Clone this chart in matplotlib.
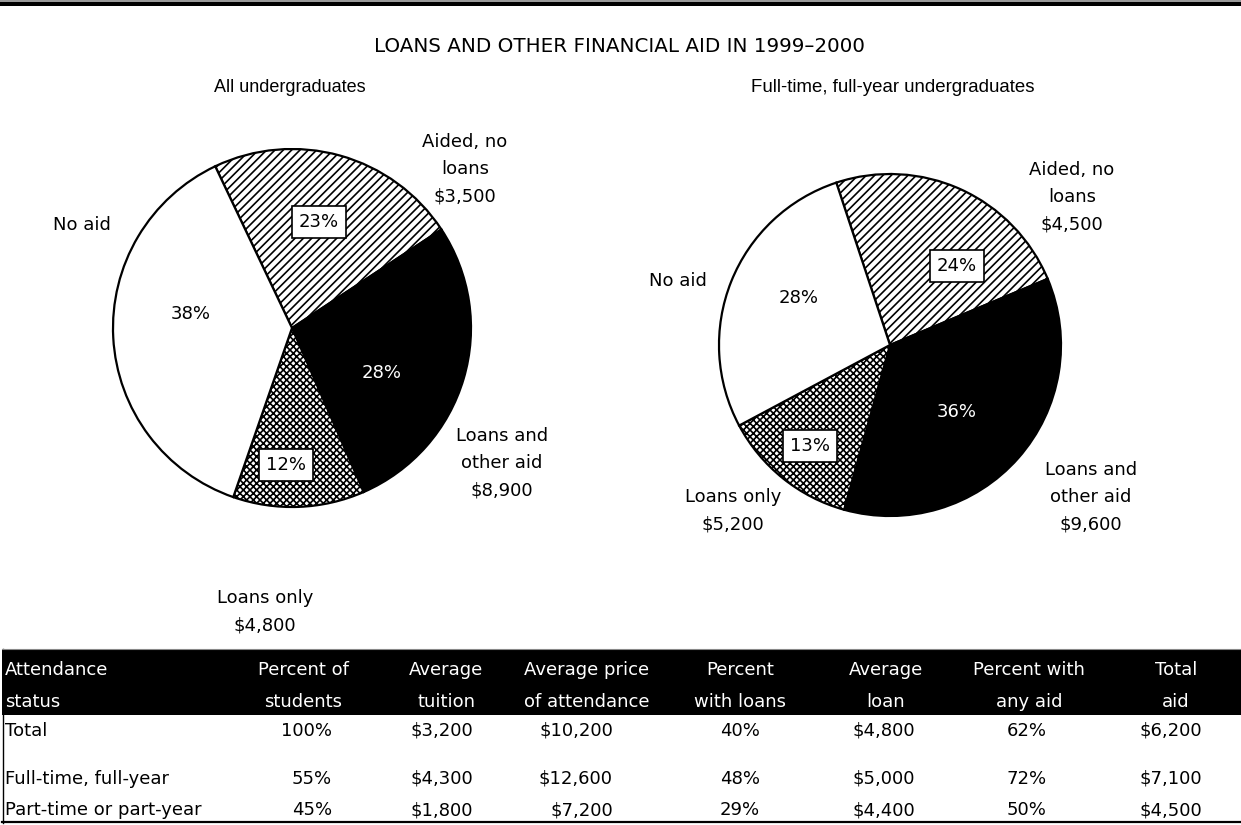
import matplotlib
matplotlib.use("Agg")
import matplotlib.pyplot as plt
from matplotlib.patches import Rectangle

W, H = 1241, 825

# pie data (percent of students) and average aid amounts
categories = ["Aided, no\nloans", "Loans and\nother aid", "Loans only", "No aid"]
all_pct = [23, 28, 12, 38]
all_amt = ["$3,500", "$8,900", "$4,800", ""]
ft_pct = [24, 36, 13, 28]
ft_amt = ["$4,500", "$9,600", "$5,200", ""]

# table data
col_heads = ["Attendance\nstatus", "Percent of\nstudents", "Average\ntuition",
             "Average price\nof attendance", "Percent\nwith loans", "Average\nloan",
             "Percent with\nany aid", "Total\naid"]
row_names = ["Total", "Full-time, full-year", "Part-time or part-year"]
pct_students = ["100%", "55%", "45%"]
avg_tuition = ["$3,200", "$4,300", "$1,800"]
avg_price = ["$10,200", "$12,600", "$7,200"]
pct_loans = ["40%", "48%", "29%"]
avg_loan = ["$4,800", "$5,000", "$4,400"]
pct_any = ["62%", "72%", "50%"]
total_aid = ["$6,200", "$7,100", "$4,500"]

FONT = "DejaVu Sans"
SUB = "Liberation Sans"
FS = 13

fills = ["white", "black", "white", "white"]
hatches = ["////", None, "xxxxx", None]
plt.rcParams["hatch.linewidth"] = 1.2

fig = plt.figure(figsize=(W / 100, H / 100), dpi=100)


def draw_pie(cx, cy, r, vals, start):
    ax = fig.add_axes([(cx - r) / W, 1 - (cy + r) / H, 2 * r / W, 2 * r / H])
    wedges, _ = ax.pie(vals, startangle=start, counterclock=False, colors=fills,
                       radius=1, wedgeprops=dict(edgecolor="black", linewidth=1.6))
    for w, h in zip(wedges, hatches):
        w.set_clip_on(False)
        if h:
            w.set_hatch(h)
    ax.set_xlim(-1, 1)
    ax.set_ylim(-1, 1)
    ax.axis("off")
    return ax


ax1 = draw_pie(292, 328, 179, all_pct, 115.4)
ax2 = draw_pie(890, 345, 171, ft_pct, 108.3)

# overlay in pixel coordinates for all text and table
ov = fig.add_axes([0, 0, 1, 1])
ov.set_xlim(0, W)
ov.set_ylim(H, 0)
ov.axis("off")
ov.patch.set_alpha(0)

ov.add_patch(Rectangle((0, 0), W, 1.5, color="#999999", lw=0))
ov.add_patch(Rectangle((0, 1.5), W, 4, color="black", lw=0))

ov.text(620, 47, "LOANS AND OTHER FINANCIAL AID IN 1999\u20132000", ha="center", va="center",
        fontsize=14.3, family=FONT)
ov.text(290, 87, "All undergraduates", ha="center", va="center", fontsize=FS, family=SUB)
ov.text(893, 87, "Full-time, full-year undergraduates", ha="center", va="center",
        fontsize=13.4, family=SUB)


def pie_labels(pcts, amts, pct_pos, lab_pos):
    for i, (p, a) in enumerate(zip(pcts, amts)):
        txt = categories[i] + ("\n" + a if a else "")
        ov.text(lab_pos[i][0], lab_pos[i][1], txt, ha="center", va="center",
                fontsize=FS, family=FONT, linespacing=1.65)
        color = "white" if fills[i] == "black" else "black"
        box = None
        if hatches[i]:
            box = dict(boxstyle="square,pad=0.4", fc="white", ec="black", lw=1.2)
        ov.text(pct_pos[i][0], pct_pos[i][1], f"{p}%", ha="center", va="center",
                fontsize=FS, family=FONT, color=color, bbox=box)


pie_labels(all_pct, all_amt,
           [(319, 222), (382, 373), (286, 465), (191, 314)],
           [(465, 169), (502, 463), (265, 612), (82, 225)])
pie_labels(ft_pct, ft_amt,
           [(957, 266), (957, 412), (810, 446), (799, 298)],
           [(1072, 197), (1091, 497), (733, 511), (678, 281)])

# table
ov.add_patch(Rectangle((2, 649), W - 2, 66, color="black", lw=0))
ov.plot([2.5, 2.5], [649, 823], color="black", lw=1)
ov.plot([2, W], [822, 822], color="black", lw=1.6)
ov.plot([2, W], [649, 649], color="#888888", lw=0.8)

head_x = [5, 303, 446, 587, 740, 886, 1029, 1176]
head_ha = ["left"] + ["center"] * 7
data_x = [5, 332, 473, 613, 740, 915, 1027, 1202]
data_ha = ["left", "right", "right", "right", "center", "right", "center", "right"]
row_y = [731, 779, 810]

for x, ha, t in zip(head_x, head_ha, col_heads):
    ov.text(x, 686, t, ha=ha, va="center", fontsize=FS, family=FONT, color="white",
            linespacing=1.95)

cols = [row_names, pct_students, avg_tuition, avg_price, pct_loans, avg_loan, pct_any, total_aid]
for x, ha, col in zip(data_x, data_ha, cols):
    for y, v in zip(row_y, col):
        ov.text(x, y, v, ha=ha, va="center", fontsize=FS, family=FONT)

fig.savefig("out.png", dpi=100)
